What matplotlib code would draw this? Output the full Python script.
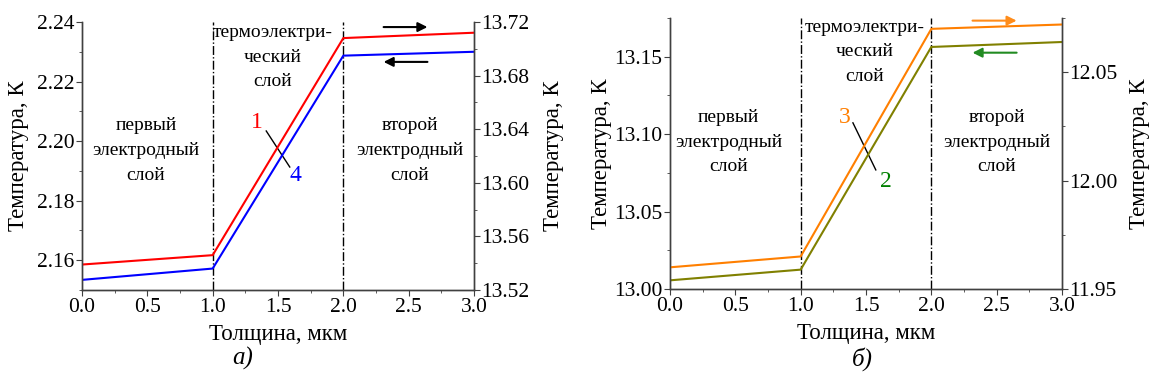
import numpy as np
import matplotlib.pyplot as plt
from matplotlib.ticker import MultipleLocator, FormatStrFormatter

plt.rcParams['font.family'] = 'Liberation Serif'

# thickness coordinates, um
x = [0.0, 1.0, 2.0, 3.0]

# panel a
t1 = [13.539, 13.546, 13.708, 13.712]   # curve 1, right axis
t4 = [2.1534, 2.1572, 2.2287, 2.2300]   # curve 4, left axis
# panel b
t3 = [11.960, 11.965, 12.070, 12.072]   # curve 3, right axis
t2 = [13.0056, 13.0125, 13.1563, 13.1595]  # curve 2, left axis

xlabel = "Толщина, мкм"
ylabel = "Температура, К"
reg1 = "первый\nэлектродный\nслой"
reg2 = "термоэлектри-\nческий\nслой"
reg3 = "второй\nэлектродный\nслой"

W, H = 1149, 385
fig = plt.figure(figsize=(W / 100, H / 100), dpi=100)
ax_a = fig.add_axes([82 / W, (H - 290) / H, 392 / W, 268 / H])
ax_b = fig.add_axes([670 / W, (H - 289) / H, 392 / W, 271 / H])

spine_c = '#404040'
FS = 15.5
LS = 16.5


def style(ax):
    ax.spines['top'].set_visible(False)
    for s in ax.spines.values():
        s.set_color(spine_c)
        s.set_linewidth(1.0)
    ax.tick_params(axis='both', which='major', direction='out', length=4,
                   labelsize=FS, color=spine_c, pad=1.5)
    ax.tick_params(axis='both', which='minor', direction='out', length=2.5,
                   color=spine_c)


def panel(ax, yl, yr, left_y, right_y, c_left, c_right, lmaj, rmaj, lx, rx):
    ax2 = ax.twinx()
    ax.set_xlim(0, 3)
    ax.set_ylim(*yl)
    ax2.set_ylim(*yr)
    ax.xaxis.set_major_locator(MultipleLocator(0.5))
    ax.xaxis.set_minor_locator(MultipleLocator(0.25))
    ax.xaxis.set_major_formatter(FormatStrFormatter('%.1f'))
    ax.yaxis.set_major_locator(MultipleLocator(lmaj))
    ax.yaxis.set_minor_locator(MultipleLocator(lmaj / 2))
    ax.yaxis.set_major_formatter(FormatStrFormatter('%.2f'))
    ax2.yaxis.set_major_locator(MultipleLocator(rmaj))
    ax2.yaxis.set_minor_locator(MultipleLocator(rmaj / 2))
    ax2.yaxis.set_major_formatter(FormatStrFormatter('%.2f'))
    style(ax)
    style(ax2)
    for xv in (1, 2):
        ax.axvline(xv, color='black', ls='-.', lw=1.0)
    ax.plot(x, left_y, color=c_left, lw=1.5)
    ax2.plot(x, right_y, color=c_right, lw=1.5)
    ax.set_xlabel(xlabel, fontsize=LS, labelpad=5)
    ax.set_ylabel(ylabel, fontsize=LS)
    ax2.set_ylabel(ylabel, fontsize=LS, rotation=90)
    ax.yaxis.set_label_coords(lx, 0.5)
    ax2.yaxis.set_label_coords(rx, 0.5)
    return ax2


ax2a = panel(ax_a, (2.15, 2.24), (13.52, 13.72), t4, t1, '#0000FF', '#FF0000',
             0.02, 0.04, -0.135, 1.176)
ax2b = panel(ax_b, (13.0, 13.175), (11.95, 12.075), t2, t3, '#808000', '#FF7F00',
             0.05, 0.05, -0.148, 1.171)

# region labels
for ax, xs, ys in ((ax_a, (0.49, 1.46, 2.51), (0.52, 0.869, 0.52)),
                   (ax_b, (0.45, 1.49, 2.50), (0.542, 0.875, 0.542))):
    for txt, xx, yy in zip((reg1, reg2, reg3), xs, ys):
        ax.text(xx, yy, txt, transform=ax.get_xaxis_transform(), ha='center',
                va='center', fontsize=14, linespacing=1.6)

# curve numbers and leader lines
ax_a.text(1.34, 2.2061, "1", color='#FF0000', fontsize=17, ha='center', va='center')
ax_a.text(1.635, 2.1886, "4", color='#0000FF', fontsize=17, ha='center', va='center')
ax_a.plot([1.41, 1.59], [2.2034, 2.1913], color='black', lw=1.0, zorder=1)
ax_b.text(1.338, 13.1105, "3", color='#FF7F00', fontsize=17, ha='center', va='center')
ax_b.text(1.65, 13.0692, "2", color='#008000', fontsize=17, ha='center', va='center')
ax_b.plot([1.40, 1.575], [13.1073, 13.0769], color='black', lw=1.0, zorder=1)

# axis arrows
arr = dict(arrowstyle='-|>', lw=1.5, mutation_scale=14)
ax_a.annotate('', xy=(2.665, 2.2383), xytext=(2.287, 2.2383),
              arrowprops=dict(arr, color='black'))
ax_a.annotate('', xy=(2.287, 2.2266), xytext=(2.665, 2.2266),
              arrowprops=dict(arr, color='black'))
ax_b.annotate('', xy=(2.674, 13.1733), xytext=(2.294, 13.1733),
              arrowprops=dict(arr, color='#FF8C1A'), annotation_clip=False)
ax_b.annotate('', xy=(2.294, 13.1526), xytext=(2.674, 13.1526),
              arrowprops=dict(arr, color='#228B22'))

fig.text(243 / W, 0.068, "а)", fontsize=18, style='italic', ha='center', va='center')
fig.text(862 / W, 0.068, "б)", fontsize=18, style='italic', ha='center', va='center')

fig.savefig('out.png', dpi=100)
